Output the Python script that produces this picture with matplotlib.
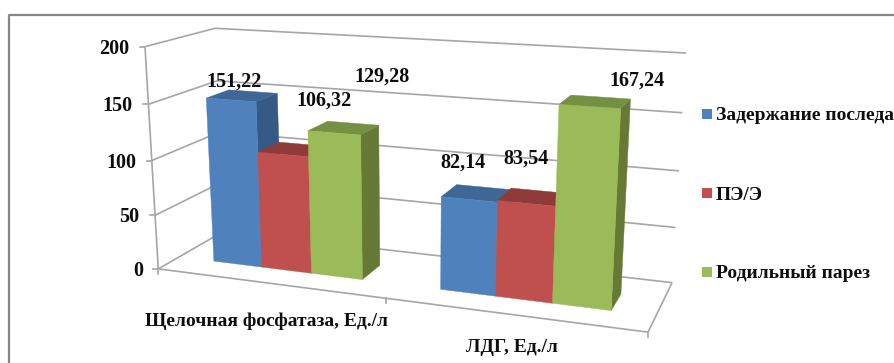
#!/usr/bin/env python
# -*- coding: utf-8 -*-
""" Grouped 3D-look column chart, drawn as flat polygons through a small perspective projection
"""
import numpy as np
import matplotlib
matplotlib.use('Agg')
from matplotlib import pyplot as plt

plt.rcParams['font.family'] = ['Liberation Serif', 'DejaVu Serif']
plt.rcParams['font.weight'] = 'bold'

categories = ['Щелочная фосфатаза, Ед./л', 'ЛДГ, Ед./л']
series_names = ['Задержание последа', 'ПЭ/Э', 'Родильный парез']
retained = [151.22, 82.14]
pe = [106.32, 83.54]
paresis = [129.28, 167.24]
y_ticks = [0, 50, 100, 150, 200]

front_cols = ['#4F81BD', '#C0504D', '#9BBB59']
top_cols = ['#3F6795', '#8F3B39', '#758F43']
side_cols = ['#345A85', '#8F3B39', '#667A35']
GRID = '#A6A6A6'
INK = '#0D0D0D'

# box corners (category, depth, value) and where they land on the canvas
anchors_3d = [(0, 0, 0), (1, 0, 0), (2, 0, 0), (0, 1, 0), (2, 1, 0),
              (0, 0, 200), (0, 1, 200), (2, 1, 200)]
anchors_2d = [(158, 268), (386, 298), (648, 333), (224, 232), (672, 282),
              (145, 47), (215, 28), (686, 53)]


def fit_projection(src, dst):
    rows, rhs = [], []
    for (x, y, z), (u, v) in zip(src, dst):
        rows.append([x, y, z, 1, 0, 0, 0, 0, -u * x, -u * y, -u * z])
        rows.append([0, 0, 0, 0, x, y, z, 1, -v * x, -v * y, -v * z])
        rhs += [u, v]
    sol = np.linalg.lstsq(np.array(rows, float), np.array(rhs, float), rcond=None)[0]
    return np.append(sol, 1).reshape(3, 4)


P = fit_projection(anchors_3d, anchors_2d)


def proj(x, y, z):
    p = P.dot([x, y, z, 1])
    return p[0] / p[2], p[1] / p[2]


def wire(ax, a, b, lw=1.2):
    pa, pb = proj(*a), proj(*b)
    ax.plot([pa[0], pb[0]], [pa[1], pb[1]], color=GRID, lw=lw, zorder=1,
            solid_capstyle='butt')


def face(ax, corners, col, z):
    pts = [proj(*c) for c in corners]
    ax.fill([p[0] for p in pts], [p[1] for p in pts], facecolor=col, edgecolor=col,
            lw=0.3, zorder=z)


fig = plt.figure(figsize=(8.95, 3.63), dpi=100)
ax = fig.add_axes([0, 0, 1, 1])
ax.set_xlim(0, 895)
ax.set_ylim(363, 0)
ax.axis('off')

# outer frame, only top and left fall inside the canvas
ax.plot([9, 9, 895], [363, 15, 15], color='#868686', lw=1.6, zorder=1)

# walls and floor
for v in y_ticks:
    wire(ax, (0, 0, v), (0, 1, v))
    wire(ax, (0, 1, v), (2, 1, v))
    x0, y0 = proj(0, 0, v)
    ax.plot([x0 - 5, x0], [y0, y0], color=GRID, lw=1.2, zorder=1)
    ax.text(x0 - 15.5, y0 + 2, str(v), ha='right', va='center', fontsize=14.5, color=INK)
wire(ax, (0, 0, 0), (0, 0, 200))
wire(ax, (0, 0, 0), (2, 0, 0))
wire(ax, (2, 0, 0), (2, 1, 0))
for c in [0, 1, 2]:
    x0, y0 = proj(c, 0, 0)
    ax.plot([x0, x0], [y0, y0 + 5], color=GRID, lw=1.2, zorder=1)

# columns, left to right so each one covers the side of its neighbour
series = [retained, pe, paresis]
bar_w = 0.67 / 3
d0, d1 = 0.30, 0.64
z = 2
tops = []
for c in range(len(categories)):
    for s, vals in enumerate(series):
        v = vals[c]
        x0 = c + 0.165 + s * bar_w
        x1 = x0 + bar_w
        face(ax, [(x1, d0, 0), (x1, d1, 0), (x1, d1, v), (x1, d0, v)], side_cols[s], z)
        face(ax, [(x0, d0, v), (x1, d0, v), (x1, d1, v), (x0, d1, v)], top_cols[s], z)
        face(ax, [(x0, d0, 0), (x1, d0, 0), (x1, d0, v), (x0, d0, v)], front_cols[s], z + 0.5)
        tops.append((proj((x0 + x1) / 2, (d0 + d1) / 2, v), v))
        z += 1

# value labels, nudged off the column tops
label_off = [(-8, -14), (31, -49), (38, -51), (-14, -31), (-7, -38), (42, -21)]
for ((tx, ty), v), (ox, oy) in zip(tops, label_off):
    ax.text(tx + ox, ty + oy, '{:.2f}'.format(v).replace('.', ','), ha='center', va='center',
            fontsize=14.5, color=INK, zorder=50)

ax.text(267, 321, categories[0], ha='center', va='center', fontsize=14, color=INK)
ax.text(512, 347, categories[1], ha='center', va='center', fontsize=14, color=INK)

# legend
for name, col, ly in zip(series_names, front_cols, [114, 193, 272]):
    ax.add_patch(plt.Rectangle((702, ly - 5), 10, 10, facecolor=col, edgecolor='none', zorder=5))
    ax.text(716, ly + 2, name, ha='left', va='center', fontsize=14, color=INK)

fig.savefig('out.png', dpi=100)
plt.close(fig)
